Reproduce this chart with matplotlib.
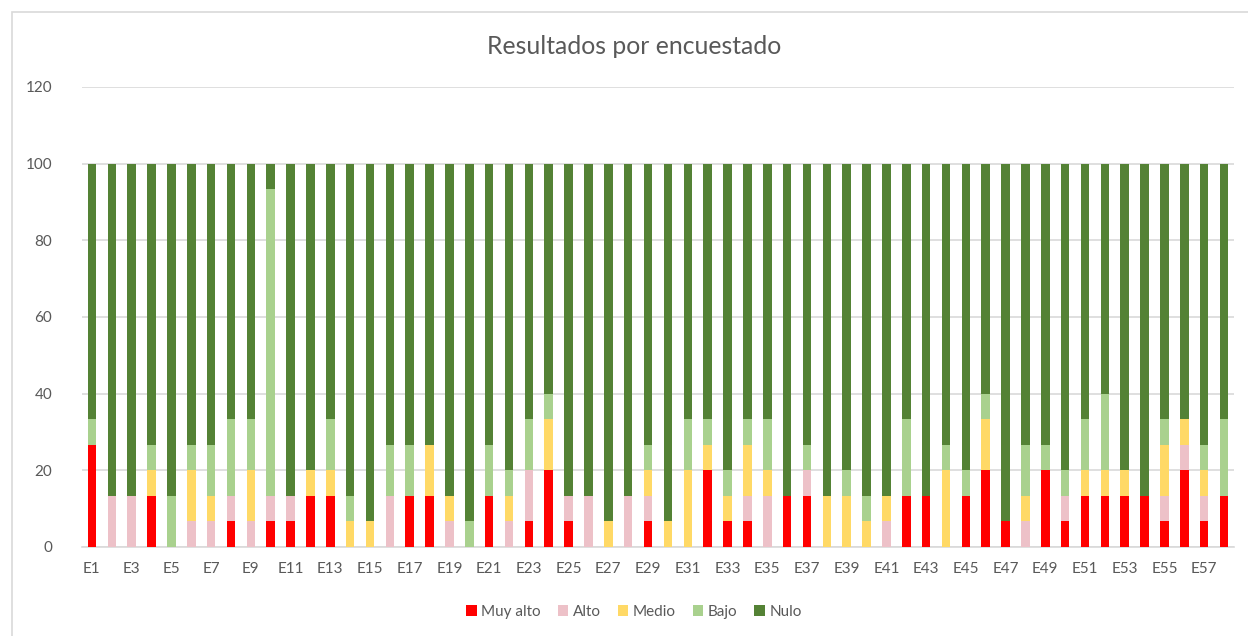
import matplotlib.pyplot as plt
import numpy as np
from matplotlib.patches import Rectangle

plt.rcParams['font.family'] = ['Lato', 'DejaVu Sans']

encuestados = [f"E{i}" for i in range(1, 59)]

muy_alto = [26.67, 0, 0, 13.33, 0, 0, 0, 6.67, 0, 6.67, 6.67, 13.33, 13.33, 0, 0,
            0, 13.33, 13.33, 0, 0, 13.33, 0, 6.67, 20, 6.67, 0, 0, 0, 6.67, 0,
            0, 20, 6.67, 6.67, 0, 13.33, 13.33, 0, 0, 0, 0, 13.33, 13.33, 0,
            13.33, 20, 6.67, 0, 20, 6.67, 13.33, 13.33, 13.33, 13.33, 6.67, 20, 6.67, 13.33]
alto = [0, 13.33, 13.33, 0, 0, 6.67, 6.67, 6.67, 6.67, 6.67, 6.67, 0, 0, 0, 0,
        13.33, 0, 0, 6.67, 0, 0, 6.67, 13.33, 0, 6.67, 13.33, 0, 13.33, 6.67, 0,
        0, 0, 0, 6.67, 13.33, 0, 6.67, 0, 0, 0, 6.67, 0, 0, 0,
        0, 0, 0, 6.67, 0, 6.67, 0, 0, 0, 0, 6.67, 6.67, 6.67, 0]
medio = [0, 0, 0, 6.67, 0, 13.33, 6.67, 0, 13.33, 0, 0, 6.67, 6.67, 6.67, 6.67,
         0, 0, 13.33, 6.67, 0, 0, 6.67, 0, 13.33, 0, 0, 6.67, 0, 6.67, 6.67,
         20, 6.67, 6.67, 13.33, 6.67, 0, 0, 13.33, 13.33, 6.67, 6.67, 0, 0, 20,
         0, 13.33, 0, 6.67, 0, 0, 6.67, 6.67, 6.67, 0, 13.33, 6.67, 6.67, 0]
bajo = [6.67, 0, 0, 6.67, 13.33, 6.67, 13.33, 20, 13.33, 80, 0, 0, 13.33, 6.67, 0,
        13.33, 13.33, 0, 0, 6.67, 13.33, 6.67, 13.33, 6.67, 0, 0, 0, 0, 6.67, 0,
        13.33, 6.67, 6.67, 6.67, 13.33, 0, 6.67, 0, 6.67, 6.67, 0, 20, 0, 6.67,
        6.67, 6.67, 0, 13.33, 6.67, 6.67, 13.33, 20, 0, 0, 6.67, 0, 6.67, 20]
nulo = [66.67, 86.67, 86.67, 73.33, 86.67, 73.33, 73.33, 66.67, 66.67, 6.67, 86.67, 80, 66.67, 86.67, 93.33,
        73.33, 73.33, 73.33, 86.67, 93.33, 73.33, 80, 66.67, 60, 86.67, 86.67, 93.33, 86.67, 73.33, 93.33,
        66.67, 66.67, 80, 66.67, 66.67, 86.67, 73.33, 86.67, 80, 86.67, 86.67, 66.67, 86.67, 73.33,
        80, 60, 93.33, 73.33, 73.33, 80, 66.67, 60, 80, 86.67, 66.67, 66.67, 73.33, 66.67]

series = [("Muy alto", muy_alto, "#FF0000"),
          ("Alto", alto, "#EDC1C8"),
          ("Medio", medio, "#FFD966"),
          ("Bajo", bajo, "#A9D18E"),
          ("Nulo", nulo, "#548235")]

texto = "#595959"
rejilla = "#D9D9D9"

fig = plt.figure(figsize=(12.48, 6.36), dpi=100)
ax = fig.add_axes([82 / 1248, 1 - 547 / 636, (1234 - 82) / 1248, (547 - 87) / 636])

x = np.arange(len(encuestados))
base = np.zeros(len(encuestados))
for nombre, valores, color in series:
    ax.bar(x, valores, width=0.43, bottom=base, color=color, label=nombre, zorder=3)
    base += np.array(valores)

ax.set_xlim(-0.5, len(encuestados) - 0.5)
ax.set_ylim(0, 120)
ax.set_yticks(range(0, 121, 20))
ax.set_xticks(x[::2])
ax.set_xticklabels(encuestados[::2])
ax.grid(axis='y', color=rejilla, linewidth=1.2, zorder=0)
ax.tick_params(axis='both', length=0, colors=texto, labelsize=11)
ax.tick_params(axis='y', pad=21.5)
ax.tick_params(axis='x', pad=11)
for lado in ['top', 'right', 'left']:
    ax.spines[lado].set_visible(False)
ax.spines['bottom'].set_color(rejilla)
ax.spines['bottom'].set_linewidth(1.2)

fig.text(0.508, 1 - 46 / 636, "Resultados por encuestado", ha='center', va='center',
         fontsize=17.8, color=texto)

fig.legend(loc='center', bbox_to_anchor=(0.508, 1 - 612 / 636), ncol=5, frameon=False,
           fontsize=11, labelcolor=texto, handlelength=0.7, handleheight=0.7,
           handletextpad=0.3, columnspacing=1.1)

# marco exterior del grafico
fig.patches.append(Rectangle((12 / 1248, -0.02), 1.0, 1 - 12 / 636 + 0.02,
                             transform=fig.transFigure, fill=False,
                             edgecolor=rejilla, linewidth=1.2))

fig.savefig("out.png", dpi=100)
